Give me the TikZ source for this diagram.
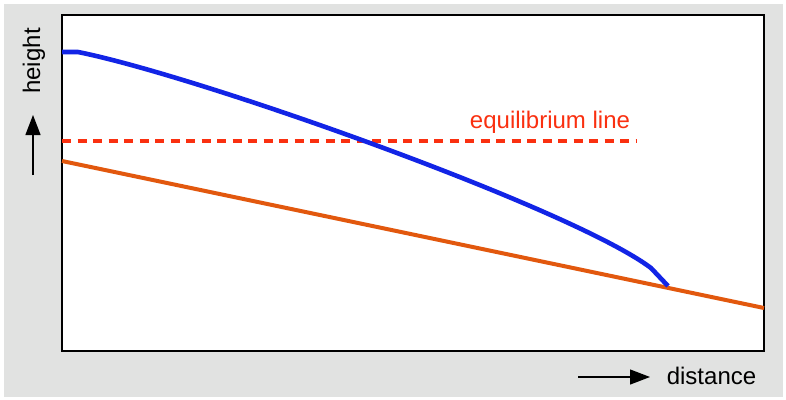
\documentclass[tikz,border=0pt]{standalone}
\usepackage{fontspec}
\setmainfont{Liberation Sans}
\usetikzlibrary{arrows.meta}
\definecolor{bggray}{RGB}{225,226,225}
\definecolor{iceblue}{RGB}{18,36,230}
\definecolor{bedorange}{RGB}{226,88,14}
\definecolor{eqred}{RGB}{250,48,16}
\tikzset{
  lbl/.style={font=\fontsize{24}{28}\selectfont, inner sep=0pt},
  axisarrow/.style={line width=1.3pt, -{Triangle[length=20pt,width=15pt]}},
}
\begin{document}
\begin{tikzpicture}[x=1pt,y=-1pt]
\useasboundingbox (0,0) rectangle (786,399);
\fill[bggray] (4,4) rectangle (783,397);
\draw[fill=white, line width=1.5pt] (62,15) rectangle (764,351);
% bed
\coordinate (bedL) at (62,161);
\coordinate (bedR) at (764,308);
\draw[bedorange, line width=4pt] (bedL) -- (bedR);
% equilibrium line
\coordinate (eqL) at (62,141);
\coordinate (eqR) at (636,141);
\draw[eqred, line width=3.3pt, dash pattern=on 9pt off 6.5pt] (eqL) -- (eqR);
\node[lbl, text=eqred, anchor=base] (eqlabel) at (550,128) {equilibrium line};
% ice surface
\coordinate (iceS) at (62,52);
\coordinate (iceA) at (78,52);
\coordinate (iceB) at (651,268);
\coordinate (iceT) at (668,286);
\draw[iceblue, line width=4.6pt, line join=round]
  (iceS) -- (iceA) .. controls (198,76) and (571,208) .. (iceB) -- (iceT);
% axis labels
\node[lbl, rotate=90, anchor=base] (hlabel) at (40,61) {height};
\coordinate (upS) at (33,175);
\coordinate (upE) at (33,115);
\draw[axisarrow] (upS) -- (upE);
\node[lbl, anchor=base] (dlabel) at (711.5,384) {distance};
\coordinate (rtS) at (578,377);
\coordinate (rtE) at (650,377);
\draw[axisarrow] (rtS) -- (rtE);
\end{tikzpicture}
\end{document}
